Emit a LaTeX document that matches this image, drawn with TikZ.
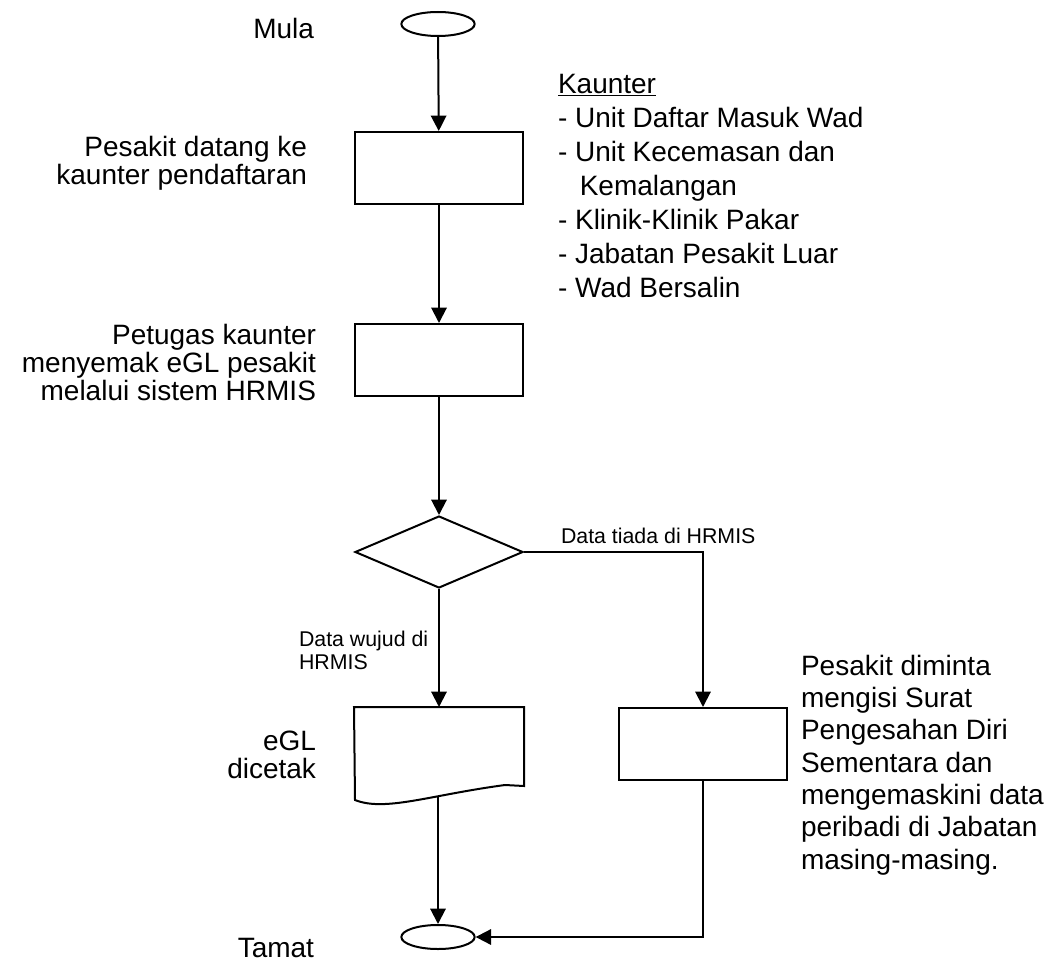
\documentclass[tikz,border=0pt]{standalone}
\usepackage{fontspec}
\setmainfont{Liberation Sans}
\usetikzlibrary{shapes, arrows.meta, calc, positioning}
\newcommand\listfont{\fontsize{21}{25.5}\selectfont\lineskiplimit=-20pt\relax}

\begin{document}
\begin{tikzpicture}[x=0.75pt,y=-0.75pt,->,>={Triangle[length=11.5pt,width=11.5pt]},line width=1.5pt,font=\fontsize{21}{21}\selectfont]
	\tikzset{term/.style={draw,ellipse,minimum width=55pt,minimum height=18pt,inner sep=0pt},
		proc/.style={draw,rectangle,minimum width=126pt,minimum height=54pt,inner sep=0pt},
		dec/.style={draw,diamond,minimum width=126pt,minimum height=54pt,inner sep=0pt},
		txt/.style={inner sep=0pt},
		small/.style={inner sep=0pt,align=left,font=\fontsize{16}{17.25}\selectfont}}
	\useasboundingbox (0,0) rectangle (1060,963);
	\node[term] (mula) at (438,24) {};
	\node[proc] (daftar) at (439,168) {};
	\node[proc] (semak) at (439,360) {};
	\node[dec] (pilih) at (439,552) {};
	\node[proc,draw=none,minimum height=57.75pt] (cetak) at (439,746.5) {};
	\node[proc] (isi) at (703,744) {};
	\node[term] (tamat) at (438,937) {};
	\coordinate (cetakb) at (438,797);
	% dokumen
	\draw[-] (cetak.south east) -- (cetak.north east) -- (cetak.north west) -- (355,800)
		.. controls (385,812) and (430,795) .. (505,785) -- cycle;
	% teks
	\node[txt,anchor=east] (tmula) at (315,28) {Mula};
	\node[txt,anchor=east,align=right] (tdaftar) at (308,163) {Pesakit datang ke\\kaunter pendaftaran};
	\node[txt,anchor=east,align=right] (tsemak) at (317,362) {Petugas kaunter\\menyemak eGL pesakit\\melalui sistem HRMIS};
	\node[txt,anchor=north west,align=left,font=\listfont] (kaunter) at (557,73)
		{\underline{Kaunter}\\- Unit Daftar Masuk Wad\\- Unit Kecemasan dan\\\hphantom{- }\,Kemalangan\\- Klinik-Klinik Pakar\\- Jabatan Pesakit Luar\\- Wad Bersalin};
	\node[txt,anchor=east,align=right] (tcetak) at (317,755) {eGL\\dicetak};
	\node[txt,anchor=west,align=left,font=\fontsize{21}{24.2}\selectfont] (tisi) at (800,765)
		{Pesakit diminta\\mengisi Surat\\Pengesahan Diri\\Sementara dan\\mengemaskini data\\peribadi di Jabatan\\masing-masing.};
	\node[small,anchor=west] (wujud) at (298,650) {Data wujud di\\HRMIS};
	\node[small,anchor=base west] (tiada) at (560,543) {Data tiada di HRMIS};
	\node[txt,anchor=east] (ttamat) at (315,948) {Tamat};
	\path
		(mula) edge (daftar)
		(daftar) edge (semak)
		(semak) edge (pilih)
		(pilih) edge (cetak)
		(cetakb) edge (tamat);
	\draw (pilih) -| (isi);
	\draw (isi) |- (tamat);
\end{tikzpicture}
\end{document}
